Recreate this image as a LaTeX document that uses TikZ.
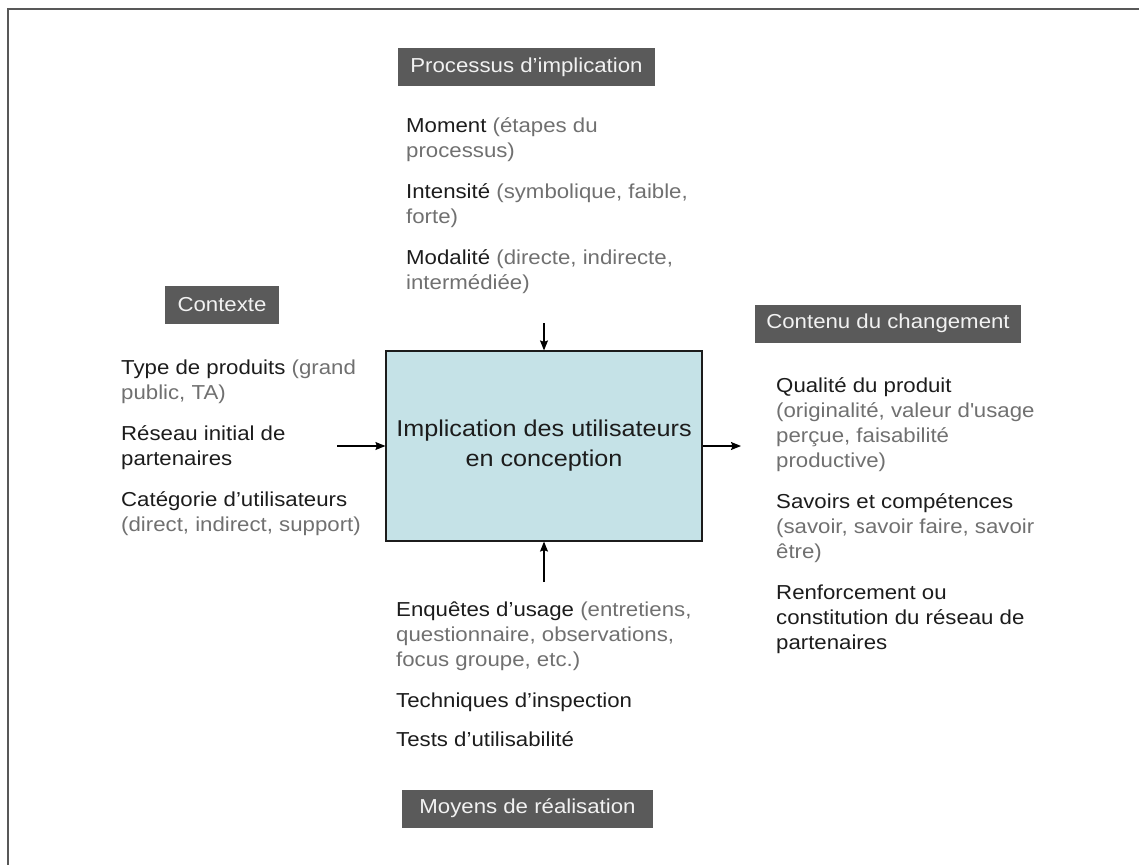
\documentclass[tikz,border=0pt]{standalone}
\usepackage{fontspec}
\setmainfont{Liberation Sans}[FakeStretch=1.1]
\usetikzlibrary{arrows.meta}
\definecolor{framegray}{RGB}{88,88,88}
\definecolor{labelgray}{RGB}{90,90,90}
\definecolor{notegray}{RGB}{112,112,112}
\definecolor{inkblack}{RGB}{28,28,28}
\definecolor{coreblue}{RGB}{197,226,231}
\newcommand{\note}[1]{\textcolor{notegray}{#1}}

\begin{document}
\begin{tikzpicture}[x=1pt, y=-1pt,
	heading/.style={fill=labelgray, text=white!95!black, minimum width=#1, minimum height=38pt, inner sep=0pt, font=\fontsize{20.2}{24}\selectfont},
	item/.style={anchor=base west, align=left, inner sep=0pt, text=inkblack, font=\fontsize{20.2}{25}\selectfont},
	core/.style={draw=inkblack, line width=1.2pt, fill=coreblue, minimum width=316pt, minimum height=190pt, align=center, text=inkblack, font=\fontsize{22.9}{30}\selectfont},
	flow/.style={-{Stealth[length=10pt, width=8pt, inset=1.5pt]}, line width=1.1pt, black}]
	\useasboundingbox (0, 0) rectangle (1139, 864);
	% Frame:
	\draw[framegray, line width=1.6pt] (8, 9) rectangle (1200, 920);
	% Headings:
	\node[heading=257pt] (implichead) at (526.5, 67) {Processus d’implication};
	\node[heading=114pt] (contexthead) at (222, 304.5) {Contexte};
	\node[heading=266pt] (changehead) at (888, 323.5) {Contenu du changement};
	\node[heading=251pt] (meanshead) at (527.5, 808.5) {Moyens de réalisation};
	% Lists (placed at the baseline of their last line):
	\node[item] (impliclist) at (406, 289) {Moment \note{(étapes du}\\\note{processus)}\\[16pt]Intensité \note{(symbolique, faible,}\\\note{forte)}\\[16pt]Modalité \note{(directe, indirecte,}\\\note{intermédiée)}};
	\node[item] (contextlist) at (121, 531) {Type de produits \note{(grand}\\\note{public, TA)}\\[16pt]Réseau initial de\\partenaires\\[16pt]Catégorie d’utilisateurs\\\note{(direct, indirect, support)}};
	\node[item] (changelist) at (776, 649) {Qualité du produit\\\note{(originalité, valeur d\textquotesingle usage}\\\note{perçue, faisabilité}\\\note{productive)}\\[16pt]Savoirs et compétences\\\note{(savoir, savoir faire, savoir}\\\note{être)}\\[16pt]Renforcement ou\\constitution du réseau de\\partenaires};
	\node[item] (meanslist) at (396, 746) {Enquêtes d’usage \note{(entretiens,}\\\note{questionnaire, observations,}\\\note{focus groupe, etc.)}\\[16pt]Techniques d’inspection\\[14pt]Tests d’utilisabilité};
	% Core box and arrows:
	\node[core] (core) at (544, 446) {Implication des utilisateurs\\en conception};
	\coordinate (implicin) at (544, 323);
	\coordinate (contextin) at (337, 446);
	\coordinate (changeout) at (741, 446);
	\coordinate (meansin) at (544, 582);
	\draw[flow] (implicin) -- (core.north);
	\draw[flow] (contextin) -- (core.west);
	\draw[flow] (core.east) -- (changeout);
	\draw[flow] (meansin) -- (core.south);
\end{tikzpicture}
\end{document}
